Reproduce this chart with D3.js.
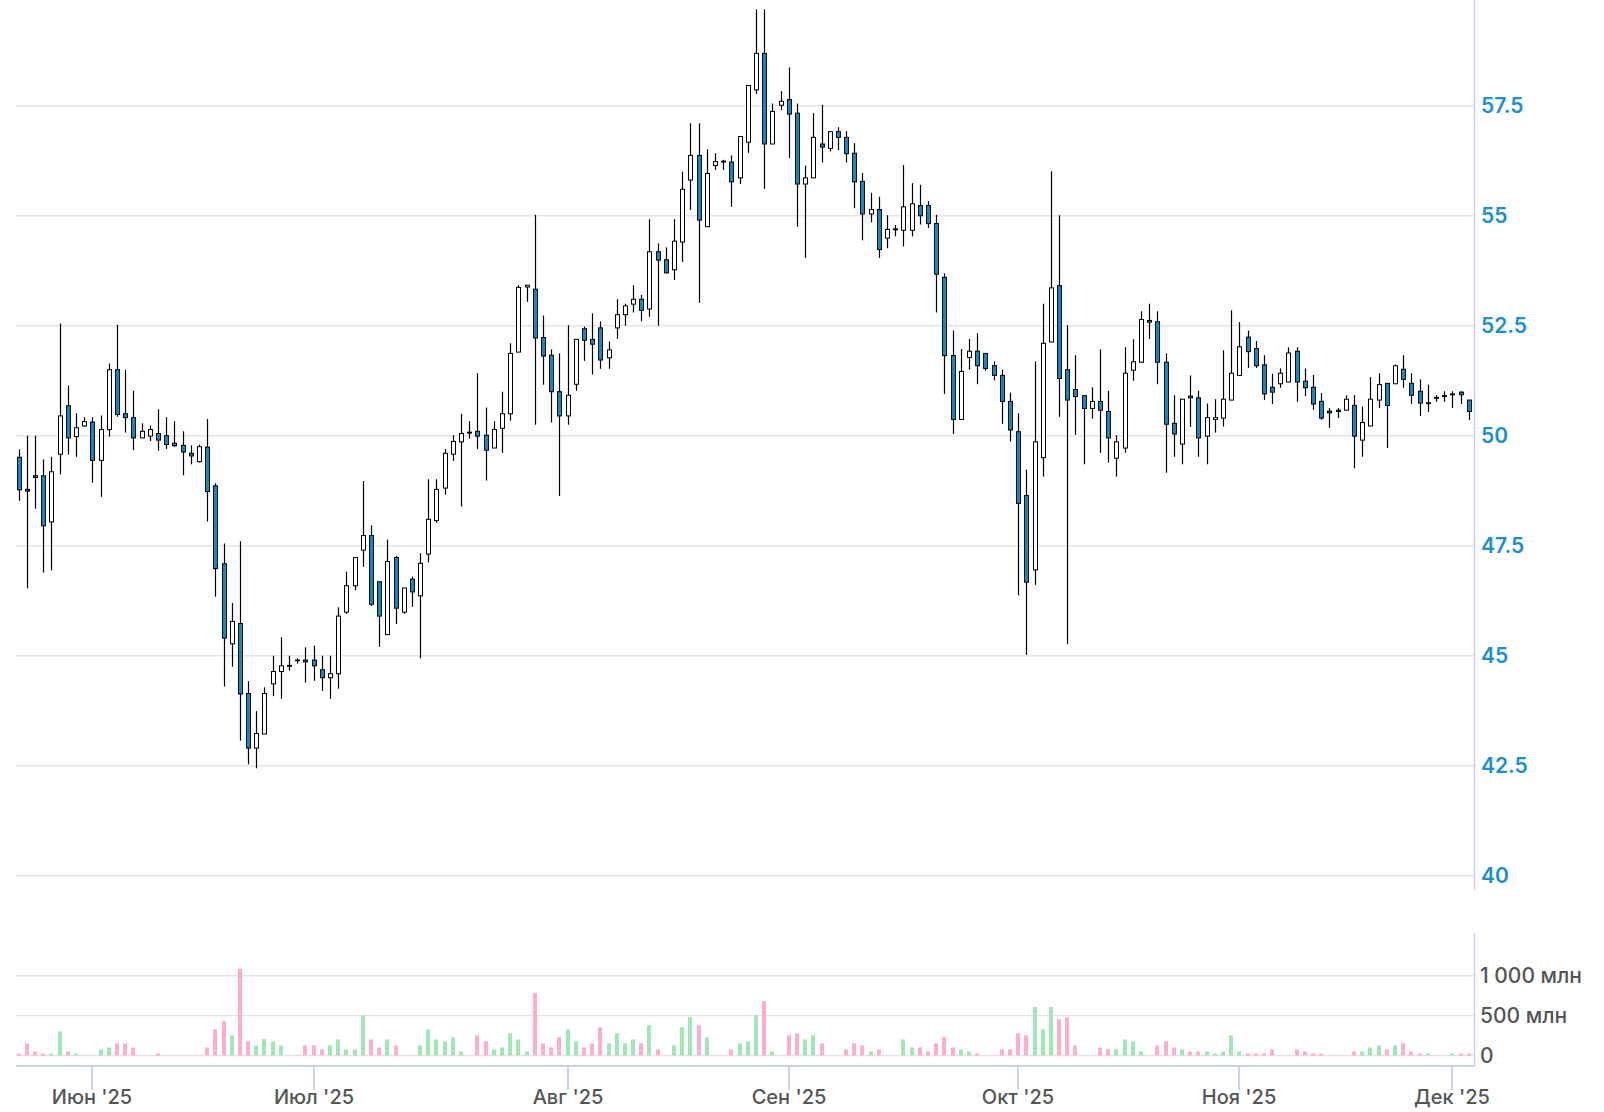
<!DOCTYPE html>
<html><head><meta charset="utf-8">
<script src="https://cdn.jsdelivr.net/npm/d3@7"></script>
<style>body{margin:0;background:#fff}svg{display:block}</style>
</head><body>
<svg id="chart" width="1604" height="1112"></svg>
<script>
// ---- data (one entry per candle, in order) ----
const open = [
49.51,48.78,49.09,49.09,48.04,49.58,50.68,49.98,50.22,50.31,
49.44,50.14,51.5,50.5,50.41,49.95,49.99,50.05,50.0,49.83,
49.78,49.6,49.41,49.74,48.86,47.09,45.27,45.73,44.14,42.9,
43.22,44.36,44.64,44.76,44.9,44.9,44.9,44.68,44.5,44.59,
45.99,46.59,47.4,47.73,46.68,45.48,47.23,45.99,46.74,46.36,
47.31,48.07,48.81,49.58,49.86,50.08,50.1,50.01,49.72,50.17,
50.5,51.9,53.38,53.33,52.23,51.83,51.0,50.45,51.17,52.43,
52.19,52.45,51.77,52.45,52.75,52.99,53.1,52.88,54.18,54.0,
53.77,54.4,55.81,56.37,54.75,56.14,56.24,56.22,55.86,56.67,
57.86,58.69,56.63,57.51,57.64,57.33,55.72,55.86,56.63,56.53,
56.91,56.78,56.42,55.78,55.04,55.14,54.49,54.7,54.67,54.67,
55.23,55.23,54.82,53.6,51.82,50.37,51.78,51.92,51.87,51.59,
51.37,50.78,50.09,48.64,46.95,49.5,52.13,53.41,51.5,51.05,
50.91,50.62,50.78,50.55,49.49,49.72,51.49,51.67,52.62,52.59,
51.67,50.28,49.81,50.9,50.86,49.99,50.37,50.4,50.81,51.37,
52.24,51.98,51.61,51.1,51.18,51.22,51.92,51.24,51.1,50.78,
50.56,50.58,50.58,50.69,49.9,50.22,50.81,51.19,51.18,51.51,
51.19,51.01,50.73,50.87,50.91,50.93,50.99,50.81];
const high = [
49.69,50.0,50.0,49.46,49.52,52.55,51.14,50.51,50.42,50.42,
50.46,51.64,52.52,51.5,51.02,50.28,50.23,50.6,50.42,50.33,
50.1,49.78,49.8,50.38,48.92,47.55,46.2,47.6,44.42,43.74,
44.28,45.0,45.42,45.0,44.94,45.19,45.23,45.0,45.0,46.1,
46.91,47.23,48.97,47.96,46.68,47.64,47.27,46.54,46.8,47.33,
49.01,49.01,49.7,50.01,50.5,50.33,51.42,50.64,50.33,51.0,
52.1,53.42,53.42,55.02,52.73,51.96,51.87,52.51,52.19,52.48,
52.78,52.6,52.14,53.1,53.0,53.42,53.2,54.92,54.37,54.28,
54.92,56.0,57.1,57.1,56.51,56.42,56.27,56.37,56.8,57.96,
59.69,59.69,57.55,57.83,58.37,57.55,56.14,57.33,57.52,56.91,
57.01,56.92,56.65,55.97,55.52,55.43,55.01,54.79,56.15,55.74,
55.7,55.33,55.02,53.69,52.39,51.97,52.2,52.33,51.87,51.69,
51.5,50.98,50.51,49.23,51.69,53.0,56.01,55.01,52.51,51.83,
50.91,51.1,51.96,51.02,50.01,52.01,52.19,52.83,53.0,52.83,
51.87,50.92,50.83,51.37,51.02,50.73,50.83,51.94,52.85,52.58,
52.39,52.15,51.83,51.41,51.53,52.01,52.01,51.53,51.38,50.97,
50.63,50.63,50.92,50.92,50.66,51.33,51.42,51.19,51.62,51.83,
51.42,51.28,51.16,50.92,51.01,51.01,51.01,50.81];
const low = [
48.52,46.53,48.34,46.89,46.94,49.12,49.57,49.52,50.2,48.93,
48.61,49.98,50.43,50.07,49.67,49.95,49.88,49.66,49.7,49.75,
49.1,49.35,49.39,48.05,46.34,44.3,44.75,43.07,42.53,42.44,
43.22,44.08,44.02,44.66,44.82,44.39,44.43,44.2,44.02,44.25,
45.95,46.49,47.02,46.13,45.2,45.48,45.72,45.95,46.11,44.94,
47.12,48.02,48.66,49.43,48.39,49.93,49.7,48.98,49.72,49.61,
50.34,51.9,53.04,50.25,51.16,50.3,48.63,50.25,51.02,51.7,
51.39,51.52,51.52,52.2,52.5,52.8,52.6,52.7,52.5,53.69,
53.54,53.95,55.13,53.02,54.75,56.04,56.04,55.2,55.72,56.43,
57.77,55.61,56.63,57.4,56.31,54.75,54.04,55.86,56.21,56.46,
56.49,56.21,55.17,54.44,54.85,54.04,54.26,54.53,54.3,54.53,
54.8,54.72,52.8,50.95,50.04,50.37,51.5,51.17,51.48,51.26,
50.27,49.87,46.37,45.02,46.61,49.07,52.13,50.43,45.26,50.02,
49.35,50.39,49.61,49.39,49.07,49.61,51.25,51.67,52.2,51.17,
49.16,49.52,49.35,50.2,49.52,49.35,50.07,50.21,50.81,51.37,
51.54,51.54,50.81,50.72,51.09,51.22,50.77,50.9,50.59,50.36,
50.18,50.4,50.58,49.26,49.52,50.22,50.63,49.72,51.18,51.09,
50.72,50.45,50.54,50.77,50.77,50.63,50.72,50.36];
const close = [
48.77,48.74,49.05,47.95,49.18,50.45,49.95,50.18,50.32,49.44,
50.14,51.5,50.48,50.41,49.95,50.1,50.14,49.9,49.8,49.77,
49.63,49.54,49.75,48.73,46.98,45.4,45.78,44.13,42.9,43.23,
44.14,44.64,44.77,44.78,44.9,44.86,44.77,44.5,44.59,45.9,
46.59,47.23,47.73,46.17,45.9,47.14,46.08,46.54,46.45,47.1,
48.1,48.78,49.6,49.87,50.05,50.06,49.99,49.67,50.14,50.5,
51.87,53.37,53.42,52.22,51.81,51.0,50.45,50.92,52.19,52.17,
52.08,51.72,51.95,52.75,52.95,53.1,52.85,54.18,53.99,53.7,
54.42,55.6,56.37,54.9,55.96,56.23,56.22,55.77,56.8,57.96,
58.69,56.63,57.37,57.6,57.31,55.72,55.86,56.78,56.56,56.91,
56.78,56.41,55.77,55.04,55.14,54.23,54.69,54.68,55.2,55.27,
55.0,54.82,53.67,51.82,50.37,51.46,51.92,51.59,51.53,51.37,
50.78,50.13,48.46,46.67,49.86,52.1,53.36,51.3,50.81,50.89,
50.62,50.78,50.58,49.95,49.86,51.42,51.68,52.64,52.58,51.67,
50.26,50.04,50.83,50.86,49.95,50.41,50.41,50.83,51.42,52.02,
51.91,51.59,50.95,50.99,51.42,51.88,51.22,51.09,50.72,50.4,
50.52,50.55,50.83,49.99,50.3,50.83,51.16,50.69,51.59,51.28,
50.92,50.74,50.75,50.85,50.89,50.95,50.93,50.55];
// volume, millions
const volume = [
25,152,50,25,25,303,50,25,0,0,
76,101,152,152,101,0,0,25,0,0,
0,0,0,101,328,429,253,1086,177,126,
202,177,126,0,0,126,126,76,126,202,
76,76,505,202,101,202,126,0,0,126,
328,202,177,227,50,0,253,177,76,101,
278,202,50,783,152,101,227,328,177,101,
152,354,152,278,152,202,152,379,76,0,
126,354,480,379,227,0,0,76,152,177,
505,682,50,0,253,278,202,253,152,0,
0,76,152,126,50,76,0,0,202,101,
101,50,152,227,101,76,50,25,0,0,
76,76,278,253,606,328,606,455,480,126,
0,0,101,76,76,202,177,50,0,126,
177,101,76,50,50,50,25,50,253,50,
25,25,25,76,0,0,76,50,25,25,
0,0,0,50,50,101,126,76,126,152,
50,25,25,0,0,25,25,25];
const priceTicks = [40, 42.5, 45, 47.5, 50, 52.5, 55, 57.5];
const volumeTicks = [0, 500, 1000];
const volumeTickLabels = ["0", "500 млн", "1 000 млн"];
const monthLabels = ["Июн '25", "Июл '25", "Авг '25", "Сен '25", "Окт '25", "Ноя '25", "Дек '25"];
const monthStartIndex = [9, 36, 67, 94, 122, 149, 175];

// ---- layout ----
const N = open.length;
const plotLeft = 16, plotRight = 1474.5;
const svg = d3.select("#chart");
const x = d3.scaleLinear().domain([0, N - 1]).range([18.7, 1468.7]);
const y = d3.scaleLinear().domain([40, 57.5]).range([875.7, 105.7]);
const yv = d3.scaleLinear().domain([0, 1000]).range([1055.5, 975.7]);

const gridColor = "#e4e4e4", axisColor = "#c9d4ea";
const upVol = "#9ee8b4", downVol = "#ffadc8", downBody = "#0c8cc4";
const font = "Inter, 'Noto Sans', sans-serif";

// grid lines
svg.append("g").selectAll("line").data(priceTicks).join("line")
  .attr("x1", plotLeft).attr("x2", plotRight)
  .attr("y1", d => y(d)).attr("y2", d => y(d))
  .attr("stroke", gridColor).attr("stroke-width", 1.4);
svg.append("g").selectAll("line").data(volumeTicks).join("line")
  .attr("x1", plotLeft).attr("x2", plotRight)
  .attr("y1", d => yv(d)).attr("y2", d => yv(d))
  .attr("stroke", gridColor).attr("stroke-width", 1.4);

// right axis lines
svg.append("line").attr("x1", plotRight).attr("x2", plotRight).attr("y1", 0).attr("y2", 890)
  .attr("stroke", axisColor).attr("stroke-width", 1.6);
svg.append("line").attr("x1", plotRight).attr("x2", plotRight).attr("y1", 933).attr("y2", 1066)
  .attr("stroke", axisColor).attr("stroke-width", 1.6);

// price labels
svg.append("g").selectAll("text").data(priceTicks).join("text")
  .attr("x", 1481).attr("y", d => y(d) + 7.6)
  .attr("font-family", font).attr("font-size", 21).attr("font-weight", 600)
  .attr("fill", "#1a90cf").text(d => String(d));
// volume labels
svg.append("g").selectAll("text").data(volumeTicks).join("text")
  .attr("x", 1480).attr("y", d => yv(d) + 7.6)
  .attr("font-family", font).attr("font-size", 21).attr("font-weight", 500)
  .attr("fill", "#555").attr("xml:space", "preserve").text((d, i) => volumeTickLabels[i]);

// volume bars
const idx = d3.range(N);
svg.append("g").selectAll("rect").data(idx.filter(i => volume[i] > 0)).join("rect")
  .attr("x", i => Math.round(x(i)) - 2).attr("width", 4)
  .attr("y", i => yv(volume[i])).attr("height", i => yv(0) - yv(volume[i]))
  .attr("fill", i => close[i] >= open[i] ? upVol : downVol);

// candles
const cg = svg.append("g");
const cx = i => Math.round(x(i)) + 0.5;
cg.selectAll("line").data(idx).join("line")
  .attr("x1", cx).attr("x2", cx)
  .attr("y1", i => y(high[i])).attr("y2", i => y(low[i]))
  .attr("stroke", "#000").attr("stroke-width", 1.2);
cg.selectAll("rect").data(idx).join("rect")
  .attr("x", i => cx(i) - 2).attr("width", 4)
  .attr("y", i => y(Math.max(open[i], close[i])))
  .attr("height", i => Math.max(0.6, Math.abs(y(open[i]) - y(close[i]))))
  .attr("fill", i => close[i] >= open[i] ? "#fff" : downBody)
  .attr("stroke", "#000").attr("stroke-width", 1);

// x axis
svg.append("line").attr("x1", plotLeft).attr("x2", plotRight).attr("y1", 1066).attr("y2", 1066)
  .attr("stroke", axisColor).attr("stroke-width", 2);
const tg = svg.append("g").selectAll("g").data(monthStartIndex).join("g")
  .attr("transform", d => `translate(${Math.round(x(d))},0)`);
tg.append("line").attr("y1", 1066).attr("y2", 1090).attr("stroke", axisColor).attr("stroke-width", 2);
tg.append("text").attr("y", 1104).attr("text-anchor", "middle")
  .attr("font-family", font).attr("font-size", 20).attr("font-weight", 500)
  .attr("fill", "#555").text((d, i) => monthLabels[i]);
</script>
</body></html>
